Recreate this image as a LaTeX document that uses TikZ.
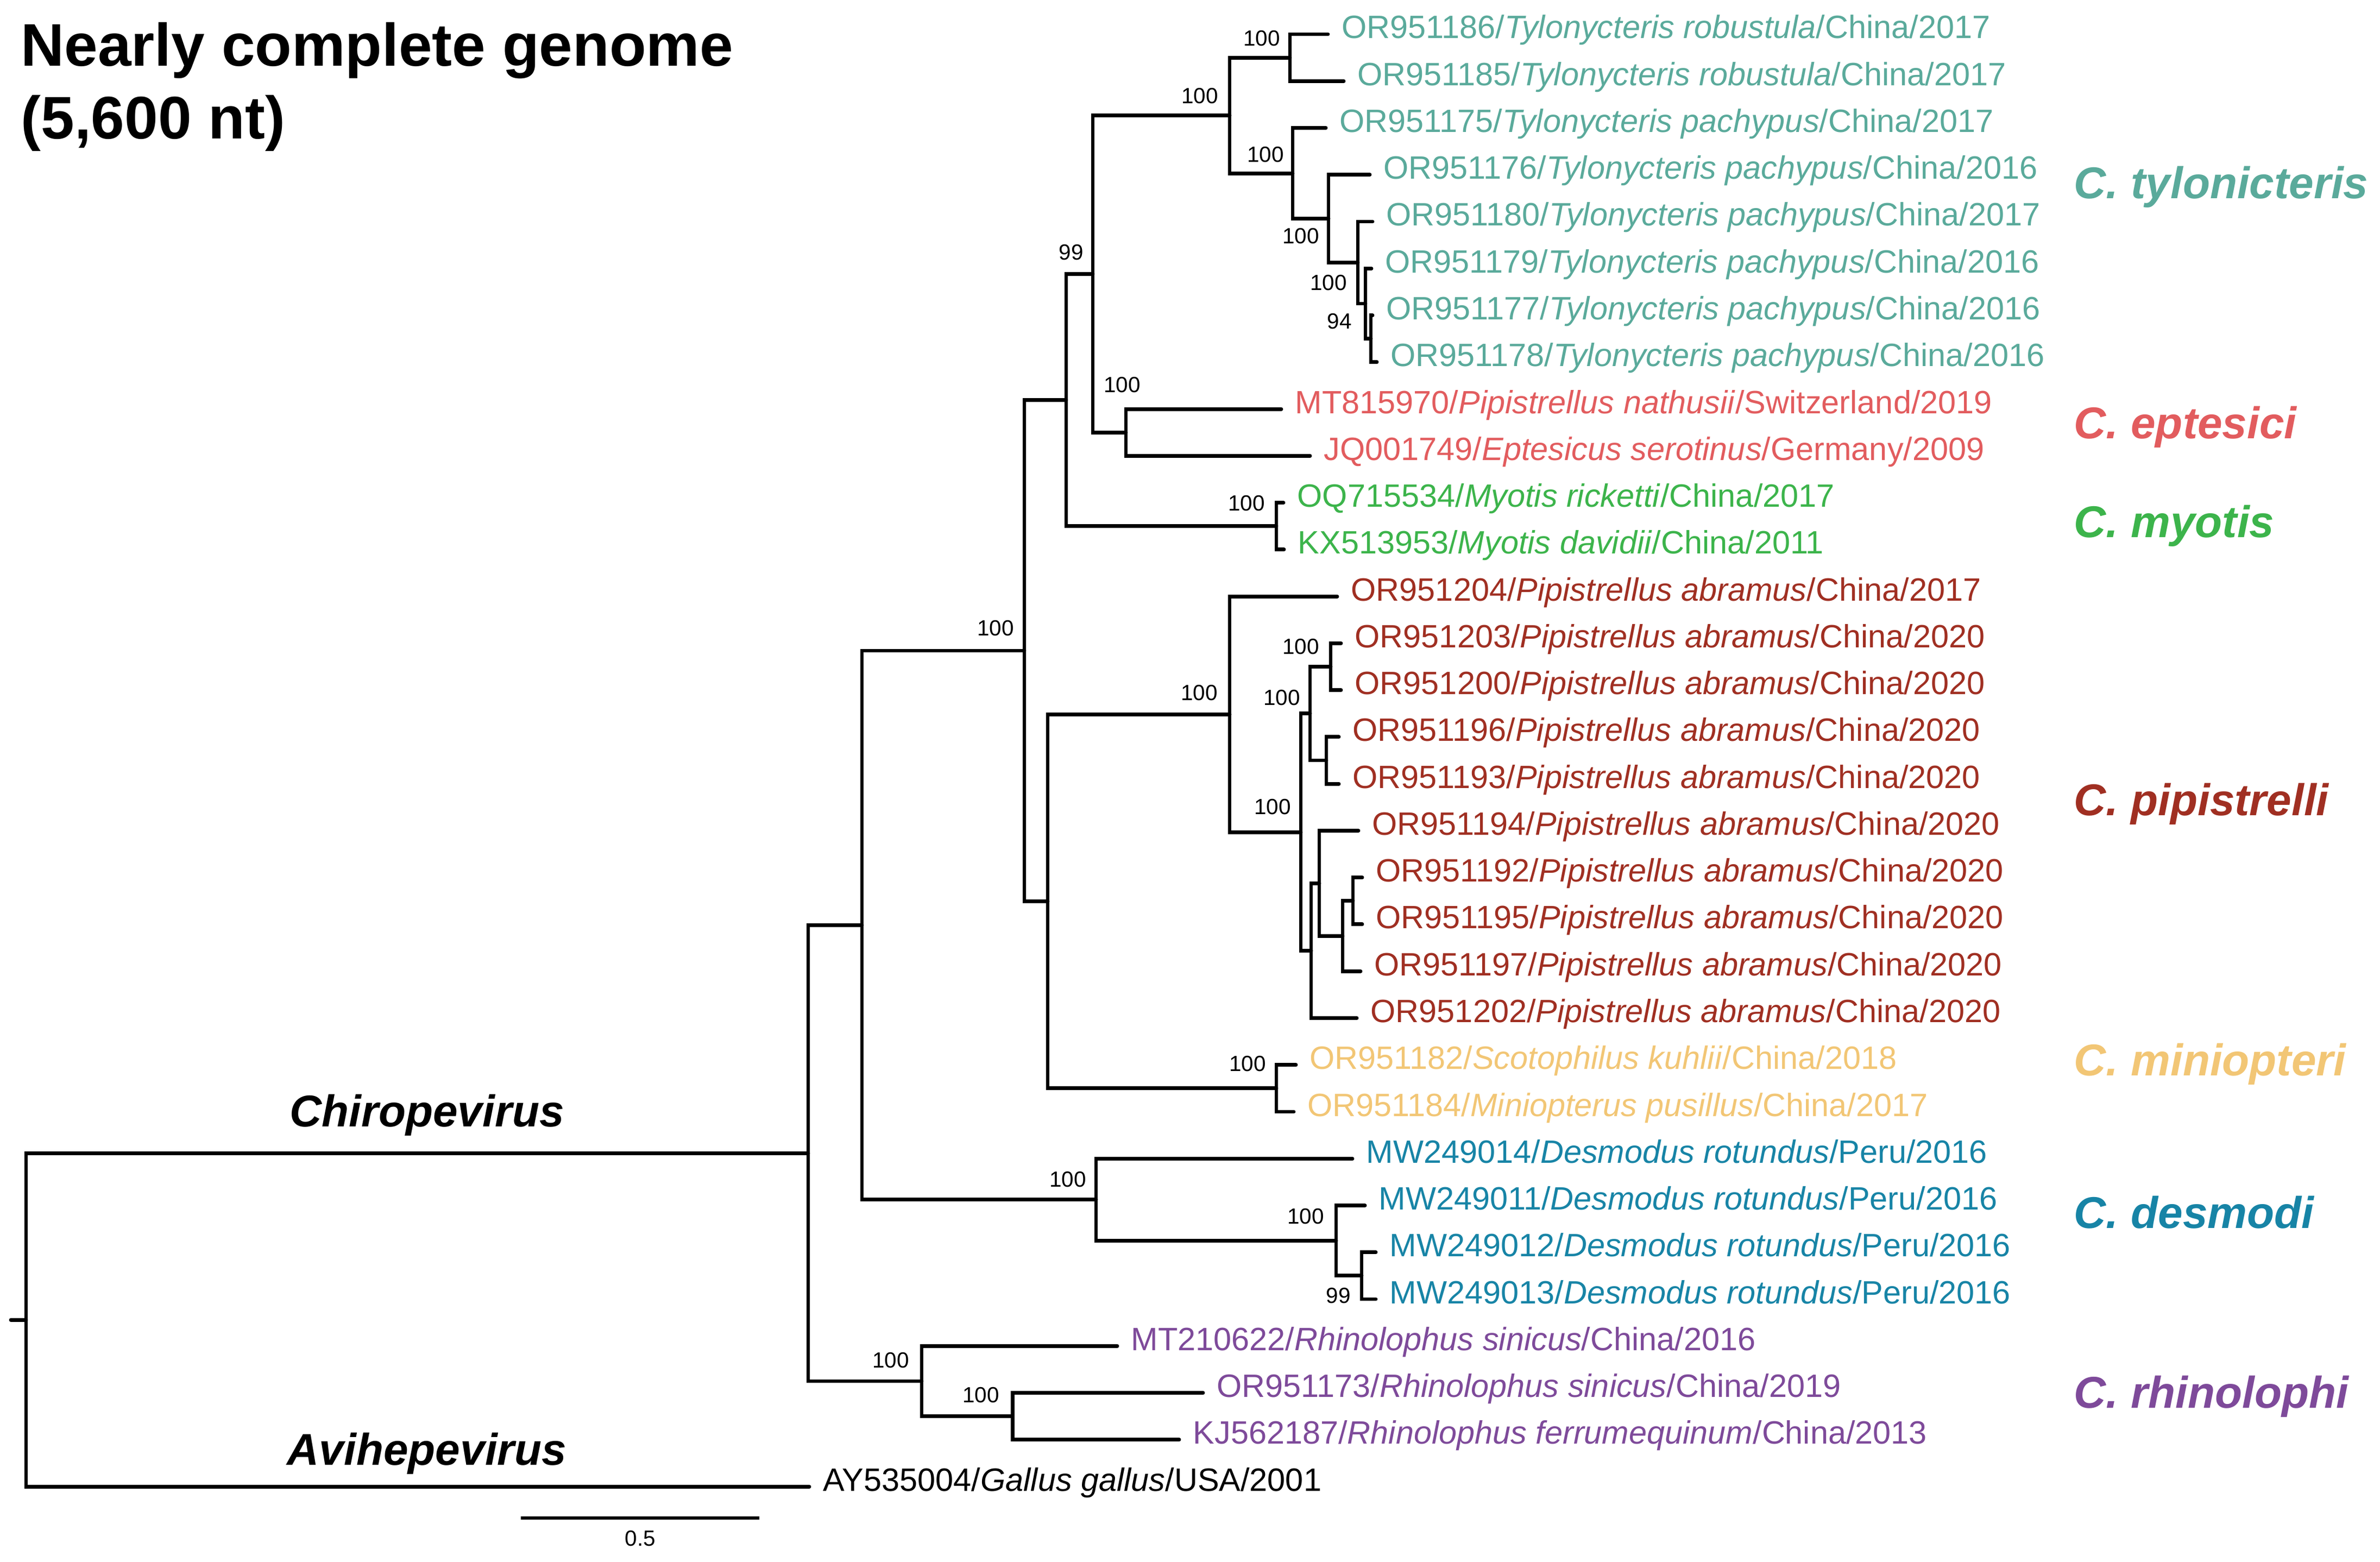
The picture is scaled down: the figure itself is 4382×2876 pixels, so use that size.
\documentclass[tikz,border=0pt]{standalone}
\usepackage{fontspec}
\setmainfont{Liberation Sans}

\definecolor{tylcol}{HTML}{5AAA9B}
\definecolor{eptcol}{HTML}{E25C5E}
\definecolor{myocol}{HTML}{3CB44B}
\definecolor{pipcol}{HTML}{A02F22}
\definecolor{mincol}{HTML}{F2C675}
\definecolor{descol}{HTML}{1784A6}
\definecolor{rhicol}{HTML}{7E4A9A}

\begin{document}
\begin{tikzpicture}[x=0.01cm, y=-0.01cm,
      branch/.style={line width=1.95pt, line cap=round},
      tiplab/.style={anchor=base west, inner sep=0pt, font=\fontsize{16.9}{20}\selectfont},
      boot/.style={inner sep=0pt, font=\fontsize{11.5}{13}\selectfont},
      clade/.style={anchor=base west, inner sep=0pt, font=\fontsize{23.3}{28}\selectfont\bfseries\itshape},
      genus/.style={anchor=base, inner sep=0pt, font=\fontsize{23.3}{28}\selectfont\bfseries\itshape},
      headline/.style={anchor=base west, inner sep=0pt, font=\fontsize{31.5}{38}\selectfont\bfseries}]

    \useasboundingbox (0,0) rectangle (4382,2876);

    \node[headline] (title1) at (38,121.4) {Nearly complete genome};
    \node[headline] (title2) at (38,256) {(5,600 nt)};

    % tips
    \coordinate (t1)  at (2445,63.0);
    \coordinate (t2)  at (2474,149.3);
    \coordinate (t3)  at (2441,235.5);
    \coordinate (t4)  at (2522,321.8);
    \coordinate (t5)  at (2527,408.0);
    \coordinate (t6)  at (2525,494.3);
    \coordinate (t7)  at (2527,580.6);
    \coordinate (t8)  at (2535,666.8);
    \coordinate (t9)  at (2359,753.1);
    \coordinate (t10) at (2412,839.3);
    \coordinate (t11) at (2363,925.6);
    \coordinate (t12) at (2364,1011.9);
    \coordinate (t13) at (2462,1098.1);
    \coordinate (t14) at (2469,1184.4);
    \coordinate (t15) at (2469,1270.6);
    \coordinate (t16) at (2465,1356.9);
    \coordinate (t17) at (2465,1443.2);
    \coordinate (t18) at (2501,1529.4);
    \coordinate (t19) at (2508,1615.7);
    \coordinate (t20) at (2508,1701.9);
    \coordinate (t21) at (2505,1788.2);
    \coordinate (t22) at (2498,1874.5);
    \coordinate (t23) at (2386,1960.7);
    \coordinate (t24) at (2382,2047.0);
    \coordinate (t25) at (2490,2133.2);
    \coordinate (t26) at (2513,2219.5);
    \coordinate (t27) at (2533,2305.8);
    \coordinate (t28) at (2533,2392.0);
    \coordinate (t29) at (2057,2478.3);
    \coordinate (t30) at (2215,2564.5);
    \coordinate (t31) at (2171,2650.8);
    \coordinate (t32) at (1490,2737.1);

    % internal nodes
    \coordinate (tyl1) at (2375,106.1);
    \coordinate (tyl2) at (2446,402.6);
    \coordinate (tyl3) at (2380,319.1);
    \coordinate (tyl4) at (2500,483.5);
    \coordinate (tyl5) at (2514,559.0);
    \coordinate (tyl6) at (2524,623.7);
    \coordinate (tyl)  at (2264,212.6);
    \coordinate (ept)  at (2073,796.2);
    \coordinate (tylept) at (2012,504.4);
    \coordinate (myo)  at (2350,968.7);
    \coordinate (tem)  at (1963,736.6);
    \coordinate (pip1) at (2450,1227.5);
    \coordinate (pip2) at (2442,1400.0);
    \coordinate (pip3) at (2412,1313.8);
    \coordinate (pip4) at (2491,1658.8);
    \coordinate (pip5) at (2472,1723.5);
    \coordinate (pip6) at (2429,1626.4);
    \coordinate (pip7) at (2414,1750.4);
    \coordinate (pip8) at (2395,1532.1);
    \coordinate (pip)  at (2264,1315.1);
    \coordinate (mini) at (2350,2003.9);
    \coordinate (pm)   at (1929,1659.5);
    \coordinate (bats) at (1886,1198.0);
    \coordinate (des2) at (2507,2348.9);
    \coordinate (des1) at (2460,2284.2);
    \coordinate (des)  at (2018,2208.8);
    \coordinate (core) at (1587,1703.4);
    \coordinate (rhi1) at (1864.5,2607.7);
    \coordinate (rhi)  at (1697,2543.0);
    \coordinate (chiro) at (1488,2123.2);
    \coordinate (root) at (48,2430.1);
    \coordinate (stem) at (20,2430.1);

    \draw[branch] (tyl1) |- (t1);
    \draw[branch] (tyl1) |- (t2);
    \draw[branch] (tyl6) |- (t7);
    \draw[branch] (tyl6) |- (t8);
    \draw[branch] (tyl5) |- (t6);
    \draw[branch] (tyl5) |- (tyl6);
    \draw[branch] (tyl4) |- (t5);
    \draw[branch] (tyl4) |- (tyl5);
    \draw[branch] (tyl2) |- (t4);
    \draw[branch] (tyl2) |- (tyl4);
    \draw[branch] (tyl3) |- (t3);
    \draw[branch] (tyl3) |- (tyl2);
    \draw[branch] (tyl)  |- (tyl1);
    \draw[branch] (tyl)  |- (tyl3);
    \draw[branch] (ept)  |- (t9);
    \draw[branch] (ept)  |- (t10);
    \draw[branch] (tylept) |- (tyl);
    \draw[branch] (tylept) |- (ept);
    \draw[branch] (myo)  |- (t11);
    \draw[branch] (myo)  |- (t12);
    \draw[branch] (tem)  |- (tylept);
    \draw[branch] (tem)  |- (myo);

    \draw[branch] (pip1) |- (t14);
    \draw[branch] (pip1) |- (t15);
    \draw[branch] (pip2) |- (t16);
    \draw[branch] (pip2) |- (t17);
    \draw[branch] (pip3) |- (pip1);
    \draw[branch] (pip3) |- (pip2);
    \draw[branch] (pip4) |- (t19);
    \draw[branch] (pip4) |- (t20);
    \draw[branch] (pip5) |- (pip4);
    \draw[branch] (pip5) |- (t21);
    \draw[branch] (pip6) |- (t18);
    \draw[branch] (pip6) |- (pip5);
    \draw[branch] (pip7) |- (pip6);
    \draw[branch] (pip7) |- (t22);
    \draw[branch] (pip8) |- (pip3);
    \draw[branch] (pip8) |- (pip7);
    \draw[branch] (pip)  |- (t13);
    \draw[branch] (pip)  |- (pip8);
    \draw[branch] (mini) |- (t23);
    \draw[branch] (mini) |- (t24);
    \draw[branch] (pm)   |- (pip);
    \draw[branch] (pm)   |- (mini);
    \draw[branch] (bats) |- (tem);
    \draw[branch] (bats) |- (pm);

    \draw[branch] (des2) |- (t27);
    \draw[branch] (des2) |- (t28);
    \draw[branch] (des1) |- (t26);
    \draw[branch] (des1) |- (des2);
    \draw[branch] (des)  |- (t25);
    \draw[branch] (des)  |- (des1);
    \draw[branch] (core) |- (bats);
    \draw[branch] (core) |- (des);

    \draw[branch] (rhi1) |- (t30);
    \draw[branch] (rhi1) |- (t31);
    \draw[branch] (rhi)  |- (t29);
    \draw[branch] (rhi)  |- (rhi1);
    \draw[branch] (chiro) |- (core);
    \draw[branch] (chiro) |- (rhi);

    \draw[branch] (root) |- (chiro);
    \draw[branch] (root) |- (t32);
    \draw[branch] (stem) -- (root);

    % tip labels
    \node[tiplab, text=tylcol] (l1)  at ([shift={(25,8)}]t1)  {OR951186/\textit{Tylonycteris robustula}/China/2017};
    \node[tiplab, text=tylcol] (l2)  at ([shift={(25,8)}]t2)  {OR951185/\textit{Tylonycteris robustula}/China/2017};
    \node[tiplab, text=tylcol] (l3)  at ([shift={(25,8)}]t3)  {OR951175/\textit{Tylonycteris pachypus}/China/2017};
    \node[tiplab, text=tylcol] (l4)  at ([shift={(25,8)}]t4)  {OR951176/\textit{Tylonycteris pachypus}/China/2016};
    \node[tiplab, text=tylcol] (l5)  at ([shift={(25,8)}]t5)  {OR951180/\textit{Tylonycteris pachypus}/China/2017};
    \node[tiplab, text=tylcol] (l6)  at ([shift={(25,8)}]t6)  {OR951179/\textit{Tylonycteris pachypus}/China/2016};
    \node[tiplab, text=tylcol] (l7)  at ([shift={(25,8)}]t7)  {OR951177/\textit{Tylonycteris pachypus}/China/2016};
    \node[tiplab, text=tylcol] (l8)  at ([shift={(25,8)}]t8)  {OR951178/\textit{Tylonycteris pachypus}/China/2016};
    \node[tiplab, text=eptcol] (l9)  at ([shift={(25,8)}]t9)  {MT815970/\textit{Pipistrellus nathusii}/Switzerland/2019};
    \node[tiplab, text=eptcol] (l10) at ([shift={(25,8)}]t10) {JQ001749/\textit{Eptesicus serotinus}/Germany/2009};
    \node[tiplab, text=myocol] (l11) at ([shift={(25,8)}]t11) {OQ715534/\textit{Myotis ricketti}/China/2017};
    \node[tiplab, text=myocol] (l12) at ([shift={(25,8)}]t12) {KX513953/\textit{Myotis davidii}/China/2011};
    \node[tiplab, text=pipcol] (l13) at ([shift={(25,8)}]t13) {OR951204/\textit{Pipistrellus abramus}/China/2017};
    \node[tiplab, text=pipcol] (l14) at ([shift={(25,8)}]t14) {OR951203/\textit{Pipistrellus abramus}/China/2020};
    \node[tiplab, text=pipcol] (l15) at ([shift={(25,8)}]t15) {OR951200/\textit{Pipistrellus abramus}/China/2020};
    \node[tiplab, text=pipcol] (l16) at ([shift={(25,8)}]t16) {OR951196/\textit{Pipistrellus abramus}/China/2020};
    \node[tiplab, text=pipcol] (l17) at ([shift={(25,8)}]t17) {OR951193/\textit{Pipistrellus abramus}/China/2020};
    \node[tiplab, text=pipcol] (l18) at ([shift={(25,8)}]t18) {OR951194/\textit{Pipistrellus abramus}/China/2020};
    \node[tiplab, text=pipcol] (l19) at ([shift={(25,8)}]t19) {OR951192/\textit{Pipistrellus abramus}/China/2020};
    \node[tiplab, text=pipcol] (l20) at ([shift={(25,8)}]t20) {OR951195/\textit{Pipistrellus abramus}/China/2020};
    \node[tiplab, text=pipcol] (l21) at ([shift={(25,8)}]t21) {OR951197/\textit{Pipistrellus abramus}/China/2020};
    \node[tiplab, text=pipcol] (l22) at ([shift={(25,8)}]t22) {OR951202/\textit{Pipistrellus abramus}/China/2020};
    \node[tiplab, text=mincol] (l23) at ([shift={(25,8)}]t23) {OR951182/\textit{Scotophilus kuhlii}/China/2018};
    \node[tiplab, text=mincol] (l24) at ([shift={(25,8)}]t24) {OR951184/\textit{Miniopterus pusillus}/China/2017};
    \node[tiplab, text=descol] (l25) at ([shift={(25,8)}]t25) {MW249014/\textit{Desmodus rotundus}/Peru/2016};
    \node[tiplab, text=descol] (l26) at ([shift={(25,8)}]t26) {MW249011/\textit{Desmodus rotundus}/Peru/2016};
    \node[tiplab, text=descol] (l27) at ([shift={(25,8)}]t27) {MW249012/\textit{Desmodus rotundus}/Peru/2016};
    \node[tiplab, text=descol] (l28) at ([shift={(25,8)}]t28) {MW249013/\textit{Desmodus rotundus}/Peru/2016};
    \node[tiplab, text=rhicol] (l29) at ([shift={(25,8)}]t29) {MT210622/\textit{Rhinolophus sinicus}/China/2016};
    \node[tiplab, text=rhicol] (l30) at ([shift={(25,8)}]t30) {OR951173/\textit{Rhinolophus sinicus}/China/2019};
    \node[tiplab, text=rhicol] (l31) at ([shift={(25,8)}]t31) {KJ562187/\textit{Rhinolophus ferrumequinum}/China/2013};
    \node[tiplab] (l32) at ([shift={(25,8)}]t32) {AY535004/\textit{Gallus gallus}/USA/2001};

    % support values
    \node[boot] (b1)  at (2323,71)    {100};
    \node[boot] (b2)  at (2209,177)   {100};
    \node[boot] (b3)  at (2330,285)   {100};
    \node[boot] (b4)  at (2395,434.5) {100};
    \node[boot] (b5)  at (2446,521)   {100};
    \node[boot] (b6)  at (2466,592)   {94};
    \node[boot] (b7)  at (1972,465)   {99};
    \node[boot] (b8)  at (2066,709)   {100};
    \node[boot] (b9)  at (2295,927)   {100};
    \node[boot] (b10) at (1833,1157)  {100};
    \node[boot] (b11) at (2208,1276)  {100};
    \node[boot] (b12) at (2395,1191)  {100};
    \node[boot] (b13) at (2360,1285)  {100};
    \node[boot] (b14) at (2343,1486)  {100};
    \node[boot] (b15) at (2297,1959)  {100};
    \node[boot] (b16) at (1966,2172)  {100};
    \node[boot] (b17) at (2404,2240)  {100};
    \node[boot] (b18) at (2464,2386)  {99};
    \node[boot] (b19) at (1640,2505)  {100};
    \node[boot] (b20) at (1806,2569)  {100};

    % clades
    \node[clade, text=tylcol] (c1) at (3818,366)  {C. tylonicteris};
    \node[clade, text=eptcol] (c2) at (3818,807)  {C. eptesici};
    \node[clade, text=myocol] (c3) at (3818,989)  {C. myotis};
    \node[clade, text=pipcol] (c4) at (3818,1501) {C. pipistrelli};
    \node[clade, text=mincol] (c5) at (3818,1980) {C. miniopteri};
    \node[clade, text=descol] (c6) at (3818,2261) {C. desmodi};
    \node[clade, text=rhicol] (c7) at (3818,2592) {C. rhinolophi};

    \node[genus] (g1) at (786,2074) {Chiropevirus};
    \node[genus] (g2) at (786,2697) {Avihepevirus};

    % scale bar
    \coordinate (sb1) at (959,2795);
    \coordinate (sb2) at (1398,2795);
    \draw[branch, line cap=butt] (sb1) -- (sb2);
    \node[boot] (sbl) at (1179,2833) {0.5};

  \end{tikzpicture}
\end{document}
